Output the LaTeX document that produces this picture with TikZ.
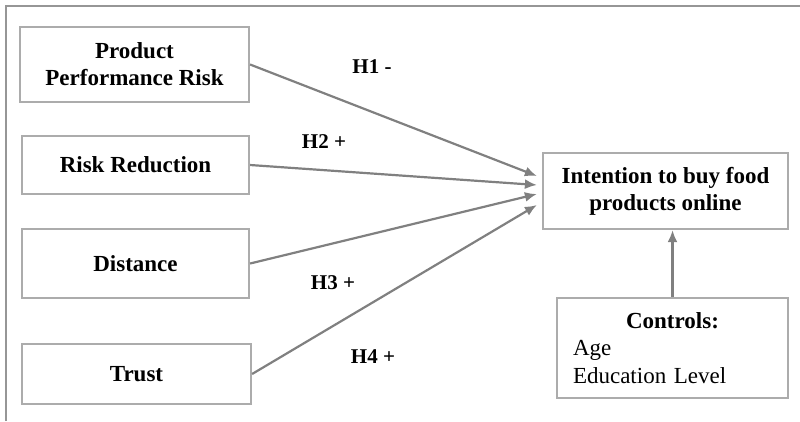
\documentclass[tikz,border=0pt]{standalone}
\usepackage{fontspec}
\setmainfont{Liberation Serif}
\usetikzlibrary{arrows.meta}
\usetikzlibrary{positioning}
\definecolor{boxgray}{RGB}{172,172,172}
\definecolor{linegray}{RGB}{128,128,128}
\definecolor{framegray}{RGB}{150,150,150}

\begin{document}
\begin{tikzpicture}[x=1pt,y=-1pt,
  var/.style={draw=boxgray,line width=2.2pt,fill=white,align=center,inner sep=0pt,
    font=\fontsize{23}{27}\selectfont\bfseries},
  hyp/.style={font=\fontsize{21}{25}\selectfont\bfseries},
  effect/.style={draw=linegray,line width=2.2pt,-{Latex[length=12pt,width=10pt]}}]
\useasboundingbox (0,0) rectangle (800,421);
\draw[framegray,line width=2pt] (6,421) -- (6,6) -- (800,6);
\node[var,minimum width=229pt,minimum height=75pt] (ppr) at (134.5,64.5) {Product\\Performance Risk};
\node[var,minimum width=227pt,minimum height=58pt] (rr) at (135.5,165) {Risk Reduction};
\node[var,minimum width=227pt,minimum height=69pt] (dist) at (135.5,263.5) {Distance};
\node[var,minimum width=229pt,minimum height=60pt] (trust) at (136.5,374) {Trust};
\node[var,minimum width=245pt,minimum height=76pt] (int) at (665.5,191) {Intention to buy food\\products online};
\node[var,minimum width=231pt,minimum height=100pt,text width=199pt,align=left,font=\fontsize{23}{27.5}\selectfont] (ctrl) at (672.5,348)
  {\hfil\textbf{Controls:}\hfil\\Age\\Education Level};
\draw[effect] (ppr.east) -- ([xshift=-5pt,yshift=15pt]int.west);
\draw[effect] (rr.east) -- ([xshift=-5pt,yshift=6pt]int.west);
\draw[effect] (dist.east) -- ([xshift=-5pt,yshift=-3pt]int.west);
\draw[effect] (trust.east) -- ([xshift=-5pt,yshift=-14pt]int.west);
\draw[effect] (ctrl.north) -- (ctrl.north |- int.south);
\node[hyp] (h1) at (372,67) {H1 -};
\node[hyp] (h2) at (324,142) {H2 +};
\node[hyp] (h3) at (333,283) {H3 +};
\node[hyp] (h4) at (373,357) {H4 +};
\end{tikzpicture}
\end{document}
